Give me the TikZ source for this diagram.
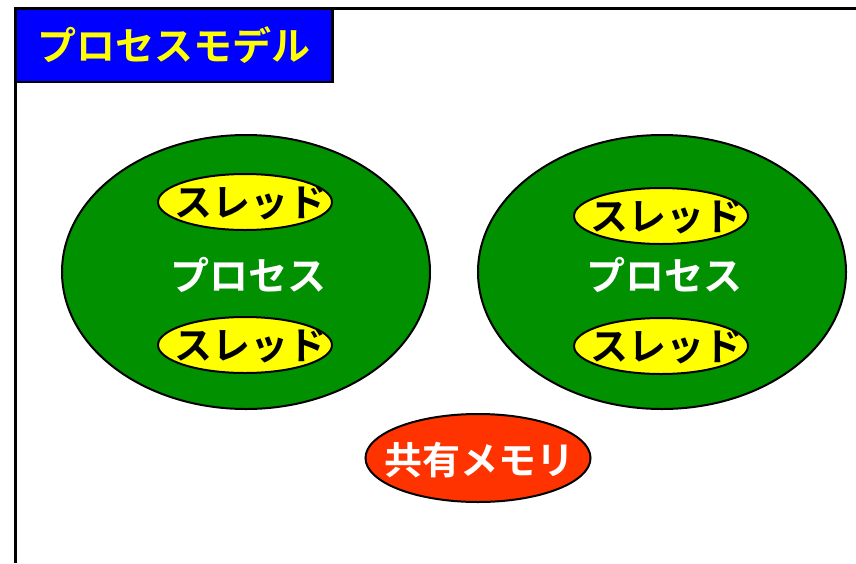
\documentclass[tikz,border=0pt]{standalone}
\usepackage{fontspec}
\usetikzlibrary{shapes.geometric}
\newfontfamily\jp{Noto Sans CJK JP Bold}
\definecolor{tblue}{RGB}{0,0,255}
\definecolor{tyellow}{RGB}{255,255,0}
\definecolor{pgreen}{RGB}{0,144,0}
\definecolor{mred}{RGB}{255,51,0}
\tikzset{
  px/.style={x=1pt,y=-1pt},
  proc/.style={ellipse,draw=black,line width=2pt,fill=pgreen,minimum width=368pt,minimum height=274pt,inner sep=0pt},
  thread/.style={ellipse,draw=black,line width=2pt,fill=tyellow,minimum width=174pt,minimum height=56pt,inner sep=0pt},
  ttext/.style={font=\jp\fontsize{38}{38}\selectfont,text=black,inner sep=0pt},
  plabel/.style={font=\jp\fontsize{39}{39}\selectfont,text=white,inner sep=0pt},
  mem/.style={ellipse,draw=black,line width=2pt,fill=mred,minimum width=225pt,minimum height=88pt,inner sep=0pt},
  mtext/.style={font=\jp\fontsize{38}{38}\selectfont,text=white,inner sep=0pt},
  titlebox/.style={draw=black,line width=2.5pt,fill=tblue,minimum width=317pt,minimum height=73pt,inner sep=0pt,font=\jp\fontsize{39}{39}\selectfont,text=tyellow,anchor=north west}
}
\begin{document}
\begin{tikzpicture}[px]
\useasboundingbox (0,0) rectangle (856,563);
\fill[white] (0,0) rectangle (856,563);
% frame
\draw[line width=3pt] (15,563) -- (15,8) -- (856,8);
% title
\node[titlebox] (title) at (14,7.5) {プロセスモデル};
% processes
\node[proc] (p1) at (246,272) {};
\node[proc] (p2) at (662,272) {};
\node[plabel] (l1) at (248,275) {プロセス};
\node[plabel] (l2) at (664,275) {プロセス};
\node[thread] (t1) at (245,202) {};
\node[thread] (t2) at (245,345) {};
\node[thread] (t3) at (661,216) {};
\node[thread] (t4) at (661,346) {};
\node[ttext] (tt1) at (250,203) {スレッド};
\node[ttext] (tt2) at (250,346) {スレッド};
\node[ttext] (tt3) at (666,217) {スレッド};
\node[ttext] (tt4) at (666,347) {スレッド};
% shared memory
\node[mem] (m) at (478,458) {};
\node[mtext] (mt) at (479,460) {共有メモリ};
\end{tikzpicture}
\end{document}
